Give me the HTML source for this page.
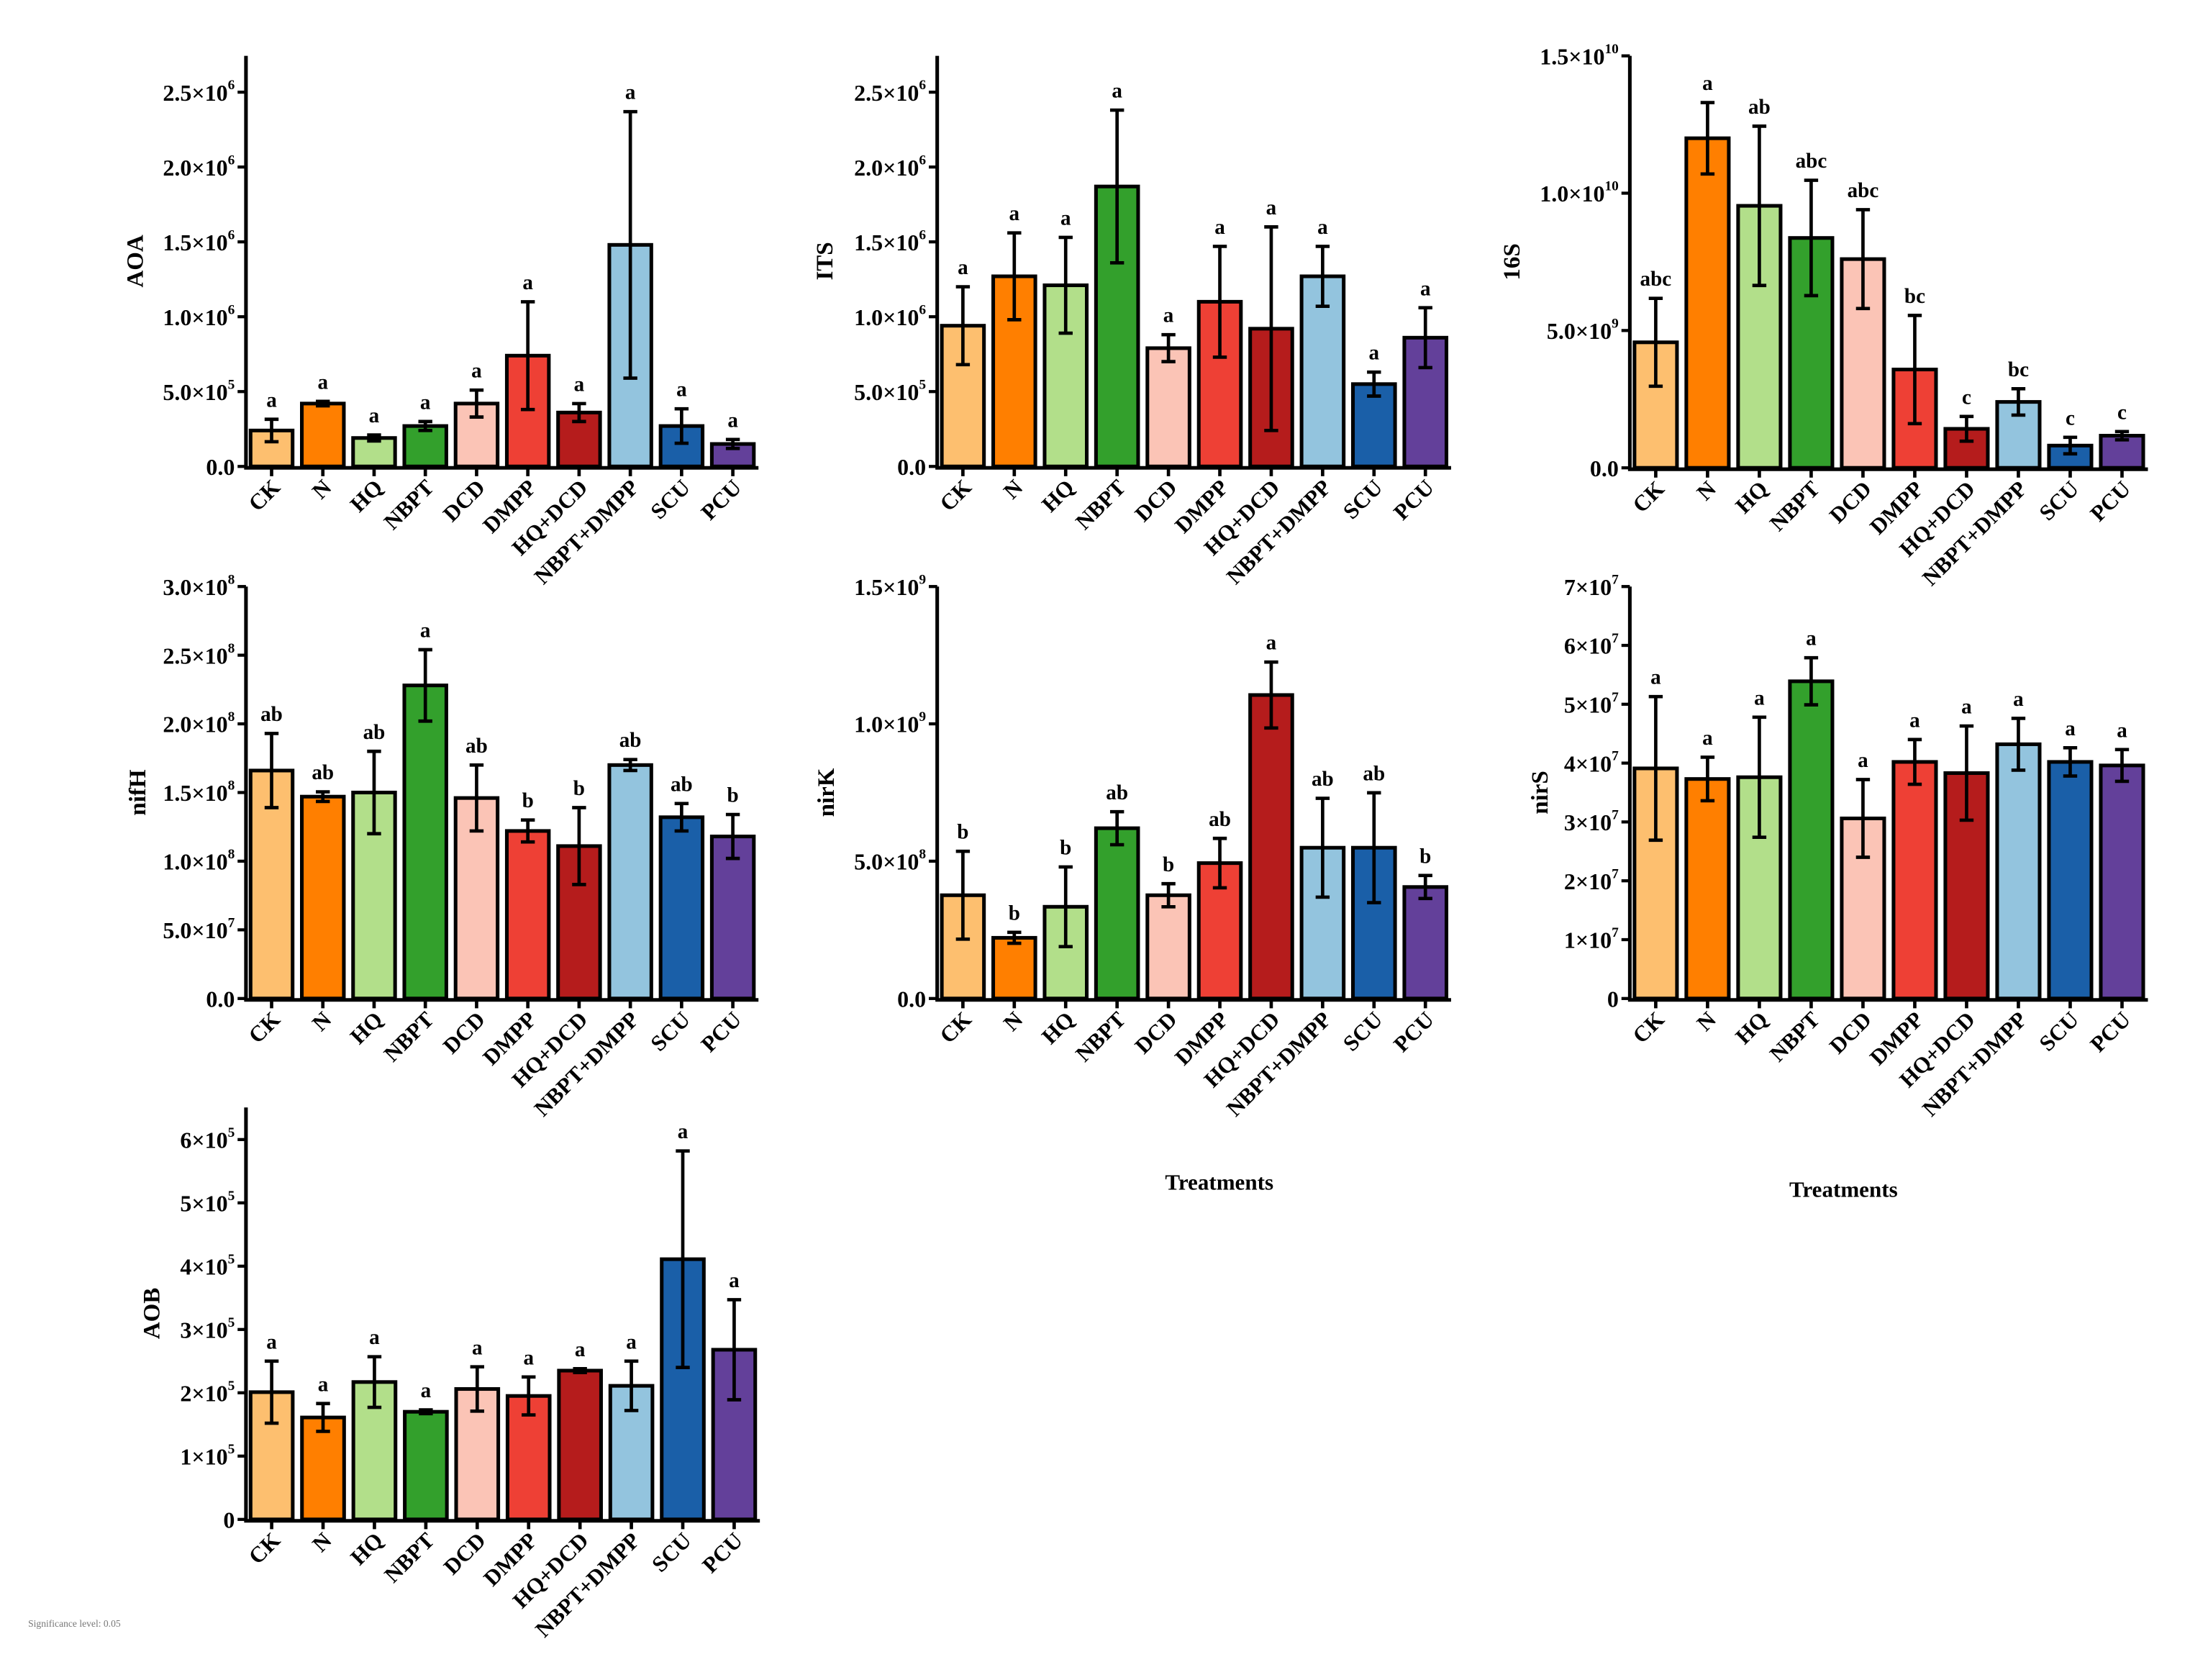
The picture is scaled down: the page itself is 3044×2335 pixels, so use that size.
<!DOCTYPE html>
<html><head><meta charset="utf-8"><style>
html,body{margin:0;padding:0;background:#fff}
svg{display:block}
text{font-family:"Liberation Serif",serif;font-weight:bold;fill:#000}
</style></head><body>
<svg id="fig" width="3044" height="2335" viewBox="0 0 1568 1203" xmlns="http://www.w3.org/2000/svg">
<rect x="0" y="0" width="1568" height="1203" fill="#fff"/>
<text x="873" y="852" font-size="16" text-anchor="middle">Treatments</text>
<text x="1320" y="857" font-size="16" text-anchor="middle">Treatments</text>
<text x="20" y="1165" font-size="7" style="font-weight:normal;fill:#777">Significance level: 0.05</text>
</svg>
<script>
const categories = ["CK","N","HQ","NBPT","DCD","DMPP","HQ+DCD","NBPT+DMPP","SCU","PCU"];
const colors = ["#FDBF6F","#FF7F00","#B2DF8A","#33A02C","#FBC4B6","#EE4035","#B51C1C","#93C4DE","#1A5FA8","#63409A"];

// AOA (x1e5)
const aoaValues = [2.4,4.2,1.9,2.7,4.2,7.4,3.6,14.8,2.7,1.5];
const aoaErrors = [0.75,0.15,0.2,0.3,0.9,3.6,0.6,8.9,1.15,0.3];
const aoaLetters = ["a","a","a","a","a","a","a","a","a","a"];
const aoaTicks = [0,5,10,15,20,25];
const aoaTickLabels = [["0.0",""],["5.0×10","5"],["1.0×10","6"],["1.5×10","6"],["2.0×10","6"],["2.5×10","6"]];

// ITS (x1e5)
const itsValues = [9.4,12.7,12.1,18.7,7.9,11.0,9.2,12.7,5.5,8.6];
const itsErrors = [2.6,2.9,3.2,5.1,0.9,3.7,6.8,2.0,0.8,2.0];
const itsLetters = ["a","a","a","a","a","a","a","a","a","a"];
const itsTicks = [0,5,10,15,20,25];
const itsTickLabels = [["0.0",""],["5.0×10","5"],["1.0×10","6"],["1.5×10","6"],["2.0×10","6"],["2.5×10","6"]];

// 16S (x1e9)
const s16Values = [4.57,12.0,9.54,8.37,7.6,3.58,1.42,2.4,0.81,1.17];
const s16Errors = [1.6,1.3,2.9,2.1,1.8,1.97,0.45,0.48,0.3,0.15];
const s16Letters = ["abc","a","ab","abc","abc","bc","c","bc","c","c"];
const s16Ticks = [0,5,10,15];
const s16TickLabels = [["0.0",""],["5.0×10","9"],["1.0×10","10"],["1.5×10","10"]];

// nifH (x1e7)
const nifhValues = [16.6,14.7,15.0,22.8,14.6,12.2,11.1,17.0,13.2,11.8];
const nifhErrors = [2.7,0.35,3.0,2.6,2.4,0.8,2.8,0.4,1.0,1.6];
const nifhLetters = ["ab","ab","ab","a","ab","b","b","ab","ab","b"];
const nifhTicks = [0,5,10,15,20,25,30];
const nifhTickLabels = [["0.0",""],["5.0×10","7"],["1.0×10","8"],["1.5×10","8"],["2.0×10","8"],["2.5×10","8"],["3.0×10","8"]];

// nirK (x1e8)
const nirkValues = [3.76,2.21,3.34,6.2,3.76,4.93,11.05,5.49,5.49,4.06];
const nirkErrors = [1.6,0.2,1.45,0.6,0.42,0.9,1.2,1.8,2.0,0.42];
const nirkLetters = ["b","b","b","ab","b","ab","a","ab","ab","b"];
const nirkTicks = [0,5,10,15];
const nirkTickLabels = [["0.0",""],["5.0×10","8"],["1.0×10","9"],["1.5×10","9"]];

// nirS (x1e6)
const nirsValues = [39.1,37.3,37.6,53.9,30.6,40.2,38.3,43.2,40.2,39.6];
const nirsErrors = [12.2,3.7,10.2,4.0,6.6,3.8,8.0,4.4,2.4,2.7];
const nirsLetters = ["a","a","a","a","a","a","a","a","a","a"];
const nirsTicks = [0,10,20,30,40,50,60,70];
const nirsTickLabels = [["0",""],["1×10","7"],["2×10","7"],["3×10","7"],["4×10","7"],["5×10","7"],["6×10","7"],["7×10","7"]];

// AOB (x1e4)
const aobValues = [20.1,16.1,21.7,17.0,20.6,19.5,23.5,21.1,41.1,26.8];
const aobErrors = [4.9,2.2,4.0,0.3,3.5,3.0,0.3,3.9,17.1,7.9];
const aobLetters = ["a","a","a","a","a","a","a","a","a","a"];
const aobTicks = [0,10,20,30,40,50,60];
const aobTickLabels = [["0",""],["1×10","5"],["2×10","5"],["3×10","5"],["4×10","5"],["5×10","5"],["6×10","5"]];

const NS = "http://www.w3.org/2000/svg";
const svg = document.getElementById("fig");
function mk(tag, attrs, parent){
  const e = document.createElementNS(NS, tag);
  for (const k in attrs) e.setAttribute(k, attrs[k]);
  (parent||svg).appendChild(e);
  return e;
}

function drawPanel(key, title, layout, values, errors, letters, ticks, tickLabels){
  const g = mk("g", {});
  
  
  const {x0,x1,top,base,maxPx,titleX} = layout;
  const tmax = ticks[ticks.length-1];
  const y = v => base - v/tmax*(base-maxPx);
  const slot = (x1-x0)/categories.length;
  const cx = i => x0 + (i+0.5)*slot;
  const bw = slot*0.82;
  categories.forEach((c,i)=>{
    const r = mk("rect", {x:cx(i)-bw/2, y:y(values[i]), width:bw, height:base-y(values[i]), fill:colors[i], stroke:"#000", "stroke-width":2.6}, g);
    
    
    const lo = y(Math.max(0,values[i]-errors[i])), hi = y(values[i]+errors[i]);
    const eb = mk("path", {d:`M${cx(i)},${lo}V${hi}M${cx(i)-5},${hi}H${cx(i)+5}M${cx(i)-5},${lo}H${cx(i)+5}`, stroke:"#000", "stroke-width":2.4, fill:"none"}, g);
    
    
    const lt = mk("text", {x:cx(i), y:hi-9, "font-size":15, "text-anchor":"middle"}, g);
    lt.textContent = letters[i];
    
    
    mk("line", {x1:cx(i), x2:cx(i), y1:base, y2:base+7, stroke:"#000", "stroke-width":2.4}, g);
    const xl = mk("text", {x:0, y:0, "font-size":16, "text-anchor":"end", transform:`translate(${cx(i)+7},${base+16}) rotate(-45)`}, g);
    xl.textContent = c;
    
    
  });
  const ax = mk("path", {d:`M${x0},${top}V${base+1}H${x1}`, stroke:"#000", "stroke-width":2.6, fill:"none"}, g);
  
  
  ticks.forEach((t,j)=>{
    mk("line", {x1:x0-6, x2:x0, y1:y(t), y2:y(t), stroke:"#000", "stroke-width":2.2}, g);
    const tl = mk("text", {x:x0-8, y:y(t)+6, "font-size":16.5, "text-anchor":"end"}, g);
    
    
    const sup = tickLabels[j][1];
    if (sup){
      const t1 = mk("tspan", {}, tl); t1.textContent = tickLabels[j][0];
      const t2 = mk("tspan", {"font-size":10, dy:-8}, tl); t2.textContent = sup;
    } else tl.textContent = tickLabels[j][0];
  });
  const yt = mk("text", {x:0, y:0, "font-size":17, "text-anchor":"middle", transform:`translate(${titleX},${(top+base)/2}) rotate(-90)`}, g);
  yt.textContent = title;
  
  
}

drawPanel("aoa","AOA",{x0:176,x1:543,top:40,base:334,maxPx:66,titleX:102},aoaValues,aoaErrors,aoaLetters,aoaTicks,aoaTickLabels);
drawPanel("its","ITS",{x0:671,x1:1039,top:40,base:334,maxPx:66,titleX:596},itsValues,itsErrors,itsLetters,itsTicks,itsTickLabels);
drawPanel("s16","16S",{x0:1167,x1:1538,top:40,base:335,maxPx:40,titleX:1088},s16Values,s16Errors,s16Letters,s16Ticks,s16TickLabels);
drawPanel("nifh","nifH",{x0:176,x1:543,top:420,base:715,maxPx:420,titleX:104},nifhValues,nifhErrors,nifhLetters,nifhTicks,nifhTickLabels);
drawPanel("nirk","nirK",{x0:671,x1:1039,top:420,base:715,maxPx:420,titleX:597},nirkValues,nirkErrors,nirkLetters,nirkTicks,nirkTickLabels);
drawPanel("nirs","nirS",{x0:1167,x1:1538,top:420,base:715,maxPx:420,titleX:1108},nirsValues,nirsErrors,nirsLetters,nirsTicks,nirsTickLabels);
drawPanel("aob","AOB",{x0:176,x1:544,top:793,base:1088,maxPx:816,titleX:114},aobValues,aobErrors,aobLetters,aobTicks,aobTickLabels);
</script>
</body></html>
